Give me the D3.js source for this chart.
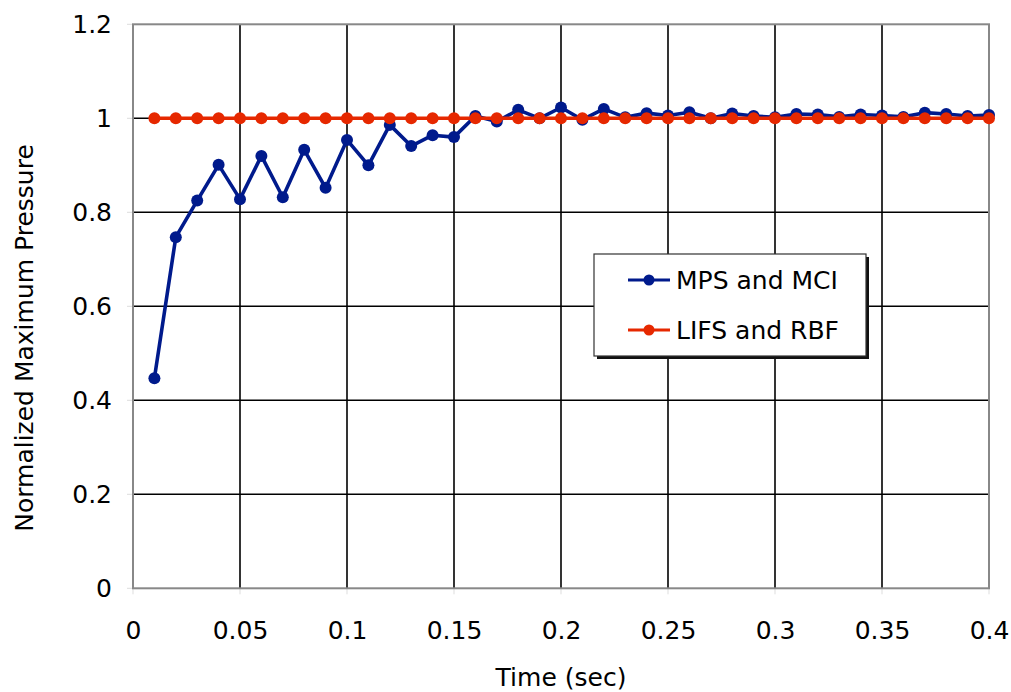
<!DOCTYPE html>
<html><head><meta charset="utf-8">
<script src="https://cdn.jsdelivr.net/npm/d3@7/dist/d3.min.js"></script>
<style>body{margin:0;background:#fff}svg{display:block;font-family:"DejaVu Sans",sans-serif}</style>
</head><body><svg id="c" width="1011" height="692"></svg>
<script>
const times = [0.01,0.02,0.03,0.04,0.05,0.06,0.07,0.08,0.09,0.10,0.11,0.12,0.13,0.14,0.15,0.16,0.17,0.18,0.19,0.20,0.21,0.22,0.23,0.24,0.25,0.26,0.27,0.28,0.29,0.30,0.31,0.32,0.33,0.34,0.35,0.36,0.37,0.38,0.39,0.40];
const mpsMci = [0.447,0.747,0.825,0.901,0.828,0.920,0.832,0.933,0.852,0.954,0.900,0.986,0.941,0.964,0.960,1.005,0.993,1.018,1.000,1.023,0.997,1.020,1.002,1.011,1.006,1.013,1.000,1.010,1.005,1.002,1.009,1.008,1.003,1.008,1.006,1.003,1.012,1.009,1.005,1.007];
const lifsRbf = [1,1,1,1,1,1,1,1,1,1,1,1,1,1,1,1,1,1,1,1,1,1,1,1,1,1,1,1,1,1,1,1,1,1,1,1,1,1,1,1];
const xTicks = [0,0.05,0.1,0.15,0.2,0.25,0.3,0.35,0.4];
const yTicks = [0,0.2,0.4,0.6,0.8,1,1.2];
const seriesNames = ["MPS and MCI","LIFS and RBF"];
const colors = ["#001a8c","#e62800"];

const svg = d3.select("#c");
const L=133, R=989, T=24.3, B=588.3;
const FS = 25;
const x = d3.scaleLinear().domain([0,0.4]).range([L,R]);
const y = d3.scaleLinear().domain([0,1.2]).range([B,T]);

// grid
svg.append("g").selectAll("line").data(xTicks.slice(1,-1)).join("line")
  .attr("x1",d=>x(d)).attr("x2",d=>x(d)).attr("y1",T).attr("y2",B)
  .attr("stroke","#000").attr("stroke-width",1.6);
svg.append("g").selectAll("line").data(yTicks.slice(1,-1)).join("line")
  .attr("x1",L).attr("x2",R).attr("y1",d=>y(d)).attr("y2",d=>y(d))
  .attr("stroke","#000").attr("stroke-width",1.6);
// small outer tick stubs
svg.append("g").selectAll("line").data(yTicks).join("line")
  .attr("x1",L-6).attr("x2",L).attr("y1",d=>y(d)).attr("y2",d=>y(d))
  .attr("stroke","#ddd").attr("stroke-width",1);
svg.append("g").selectAll("line").data(xTicks).join("line")
  .attr("x1",d=>x(d)).attr("x2",d=>x(d)).attr("y1",B).attr("y2",B+6)
  .attr("stroke","#ddd").attr("stroke-width",1);
// frame
svg.append("rect").attr("x",L).attr("y",T).attr("width",R-L).attr("height",B-T)
  .attr("fill","none").attr("stroke","#888").attr("stroke-width",2);

// axes labels via d3 axes
const xAxis = d3.axisBottom(x).tickValues(xTicks).tickFormat(d=>d===0?"0":String(+d.toFixed(2))).tickSize(0).tickPadding(0);
const gx = svg.append("g").attr("transform",`translate(0,${B})`).call(xAxis);
gx.select(".domain").remove();
gx.selectAll("text").attr("font-size",FS).attr("font-family","DejaVu Sans").attr("fill","#000")
  .attr("dy",null).attr("y",51);
const yAxis = d3.axisLeft(y).tickValues(yTicks).tickFormat(d=>String(+d.toFixed(1))).tickSize(0).tickPadding(21);
const gy = svg.append("g").attr("transform",`translate(${L},0)`).call(yAxis);
gy.select(".domain").remove();
gy.selectAll("text").attr("font-size",FS).attr("font-family","DejaVu Sans").attr("fill","#000");

svg.append("text").attr("x",(L+R)/2).attr("y",686).attr("text-anchor","middle")
  .attr("font-size",FS).text("Time (sec)");
svg.append("text").attr("transform","translate(33,338) rotate(-90)").attr("text-anchor","middle")
  .attr("font-size",FS).text("Normalized Maximum Pressure");

// series
const seriesData = [mpsMci, lifsRbf];
const line = d3.line().x(d=>x(d[0])).y(d=>y(d[1]));
seriesData.forEach((vals,i)=>{
  const pts = times.map((t,k)=>[t,vals[k]]);
  const g = svg.append("g");
  g.append("path").datum(pts).attr("d",line).attr("fill","none")
    .attr("stroke",colors[i]).attr("stroke-width",3.6).attr("stroke-linejoin","round");
  g.selectAll("circle").data(pts).join("circle")
    .attr("cx",d=>x(d[0])).attr("cy",d=>y(d[1])).attr("r",6).attr("fill",colors[i]);
});

// legend
const lx=594, ly=254, lw=272, lh=102;
svg.append("rect").attr("x",lx+3).attr("y",ly+3).attr("width",lw).attr("height",lh).attr("fill","#111");
svg.append("rect").attr("x",lx).attr("y",ly).attr("width",lw).attr("height",lh)
  .attr("fill","#fff").attr("stroke","#333").attr("stroke-width",1.2);
seriesNames.forEach((n,i)=>{
  const yy = ly + 26 + i*50;
  svg.append("line").attr("x1",628).attr("x2",670).attr("y1",yy).attr("y2",yy)
    .attr("stroke",colors[i]).attr("stroke-width",3);
  svg.append("circle").attr("cx",649).attr("cy",yy).attr("r",5.5).attr("fill",colors[i]);
  svg.append("text").attr("x",676).attr("y",yy+9).attr("font-size",FS).text(n);
});
</script></body></html>
